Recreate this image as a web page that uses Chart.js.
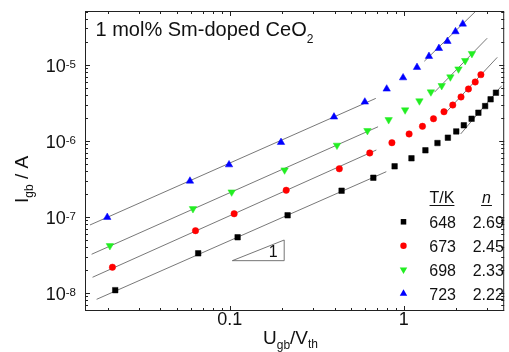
<!DOCTYPE html>
<html><head><meta charset="utf-8">
<script src="https://cdn.jsdelivr.net/npm/chart.js@4.4.0/dist/chart.umd.min.js"></script>
<style>html,body{margin:0;padding:0;background:#fff}canvas{display:block}</style>
</head><body>
<canvas id="c" width="509" height="352"></canvas>
<script>
// ---- data ----
const temperatures = ['648', '673', '698', '723'];
const exponentsN = ['2.69', '2.45', '2.33', '2.22'];

const x648 = [0.0220, 0.0659, 0.111, 0.215, 0.439, 0.668, 0.885, 1.106, 1.33, 1.56, 1.79, 2.00, 2.21, 2.45, 2.68, 2.93, 3.15, 3.38];
const y648 = [1.09e-8, 3.32e-8, 5.40e-8, 1.05e-7, 2.21e-7, 3.27e-7, 4.62e-7, 5.89e-7, 7.50e-7, 9.35e-7, 1.10e-6, 1.33e-6, 1.60e-6, 1.95e-6, 2.34e-6, 2.86e-6, 3.51e-6, 4.29e-6];

const x673 = [0.0212, 0.0636, 0.106, 0.211, 0.426, 0.637, 0.854, 1.072, 1.279, 1.48, 1.70, 1.91, 2.13, 2.35, 2.57, 2.77];
const y673 = [2.18e-8, 6.59e-8, 1.10e-7, 2.24e-7, 4.29e-7, 6.92e-7, 9.44e-7, 1.23e-6, 1.55e-6, 1.95e-6, 2.41e-6, 2.95e-6, 3.77e-6, 4.80e-6, 5.93e-6, 7.40e-6];

const x698 = [0.0205, 0.0615, 0.1026, 0.2066, 0.413, 0.618, 0.818, 1.017, 1.229, 1.43, 1.65, 1.85, 2.06, 2.25, 2.46];
const y698 = [4.18e-8, 1.28e-7, 2.12e-7, 4.13e-7, 8.73e-7, 1.36e-6, 1.89e-6, 2.54e-6, 3.34e-6, 4.38e-6, 5.30e-6, 6.89e-6, 8.77e-6, 1.13e-5, 1.40e-5];

const x723 = [0.0198, 0.0591, 0.0991, 0.197, 0.397, 0.597, 0.797, 0.99, 1.19, 1.394, 1.59, 1.78, 1.98, 2.18];
const y723 = [9.88e-8, 2.96e-7, 4.85e-7, 9.55e-7, 2.06e-6, 3.24e-6, 4.80e-6, 6.75e-6, 9.24e-6, 1.29e-5, 1.64e-5, 2.03e-5, 2.72e-5, 3.43e-5];

// fitted lines: [x0, x1] and [y0, y1] end points
const ohmicFitX648 = [0.0172, 0.793];  const ohmicFitY648 = [8.26e-9, 3.93e-7];
const ohmicFitX673 = [0.0163, 0.695];  const ohmicFitY673 = [1.61e-8, 7.57e-7];
const ohmicFitX698 = [0.0161, 0.711];  const ohmicFitY698 = [3.23e-8, 1.53e-6];
const ohmicFitX723 = [0.01575, 0.69];  const ohmicFitY723 = [7.83e-8, 3.61e-6];
const powerFitX648 = [2.12, 3.65];     const powerFitY648 = [1.23e-6, 5.3e-6];
const powerFitX673 = [1.71, 3.44];     const powerFitY673 = [2.25e-6, 1.25e-5];
const powerFitX698 = [1.50, 3.01];     const powerFitY698 = [4.36e-6, 2.23e-5];
const powerFitX723 = [1.31, 2.60];     const powerFitY723 = [1.11e-5, 5.1e-5];

const xTickValues = [0.1, 1];
const xTickLabels = ['0.1', '1'];
const yTickExponents = [-8, -7, -6, -5];
const yTickValues = [1e-8, 1e-7, 1e-6, 1e-5];

// ---- helpers ----
const FONT = '"Liberation Sans", Arial, Helvetica, sans-serif';
const pts = (xs, ys) => xs.map((x, i) => ({x: x, y: ys[i]}));

const markerStyles = [
  {style: 'rect', color: '#000000', radius: 3.9, rotation: 0},
  {style: 'circle', color: '#ff0000', radius: 3.2, rotation: 0},
  {style: 'triangle', color: '#22ee22', radius: 4.3, rotation: 180},
  {style: 'triangle', color: '#0000ff', radius: 4.3, rotation: 0}
];
const seriesX = [x648, x673, x698, x723];
const seriesY = [y648, y673, y698, y723];
const fits = [
  [ohmicFitX648, ohmicFitY648], [ohmicFitX673, ohmicFitY673], [ohmicFitX698, ohmicFitY698], [ohmicFitX723, ohmicFitY723],
  [powerFitX648, powerFitY648], [powerFitX673, powerFitY673], [powerFitX698, powerFitY698], [powerFitX723, powerFitY723]
];

const datasets = [];
seriesX.forEach((xs, i) => {
  const m = markerStyles[i];
  datasets.push({
    label: temperatures[i] + ' K',
    data: pts(xs, seriesY[i]),
    pointStyle: m.style, pointRadius: m.radius, pointRotation: m.rotation,
    pointBackgroundColor: m.color, pointBorderColor: m.color, pointBorderWidth: 0.5,
    showLine: false, order: 0
  });
});
fits.forEach(f => {
  datasets.push({
    label: 'fit', data: pts(f[0], f[1]), showLine: true,
    borderColor: '#555555', borderWidth: 0.8, pointRadius: 0, order: 1
  });
});

function drawRich(ctx, parts, x, y) {
  let cx = x;
  for (const p of parts) {
    ctx.font = (p.italic ? 'italic ' : '') + p.size + 'px ' + FONT;
    ctx.fillText(p.t, cx, y + (p.dy || 0));
    cx += ctx.measureText(p.t).width;
  }
  return cx;
}

function drawMarker(ctx, m, x, y) {
  ctx.save();
  ctx.fillStyle = m.color;
  ctx.beginPath();
  if (m.style === 'rect') {
    const s = Math.SQRT1_2 * m.radius;
    ctx.rect(x - s, y - s, 2 * s, 2 * s);
  } else if (m.style === 'circle') {
    ctx.arc(x, y, m.radius, 0, Math.PI * 2);
  } else {
    let a = m.rotation * Math.PI / 180;
    for (let k = 0; k < 3; k++) {
      const px = x + Math.sin(a) * m.radius, py = y - Math.cos(a) * m.radius;
      if (k === 0) ctx.moveTo(px, py); else ctx.lineTo(px, py);
      a += 2 * Math.PI / 3;
    }
    ctx.closePath();
  }
  ctx.fill();
  ctx.restore();
}

const decor = {
  id: 'decor',
  beforeDatasetsDraw(chart) {
    const {ctx, scales: {x, y}} = chart;
    // slope triangle
    const xl = x.getPixelForValue(0.1035), xr = x.getPixelForValue(0.2055);
    const yb = y.getPixelForValue(2.66e-8), yt = y.getPixelForValue(4.97e-8);
    ctx.save();
    ctx.strokeStyle = '#666'; ctx.lineWidth = 0.9;
    ctx.beginPath();
    ctx.moveTo(xl, yb); ctx.lineTo(xr, yt); ctx.lineTo(xr, yb); ctx.closePath();
    ctx.stroke();
    ctx.fillStyle = '#111'; ctx.font = '16px ' + FONT; ctx.textAlign = 'center';
    ctx.fillText('1', xr - 11, yb - 4);
    ctx.restore();
  },
  afterDraw(chart) {
    const {ctx, chartArea: a, scales: {x, y}} = chart;
    ctx.save();
    // frame
    ctx.strokeStyle = '#222'; ctx.lineWidth = 1;
    ctx.strokeRect(a.left + 0.5, a.top + 0.5, a.right - a.left - 1, a.bottom - a.top - 1);
    // inward ticks
    ctx.beginPath();
    for (let e = -3; e <= 1; e++) {
      for (let k = 1; k <= 9; k++) {
        const v = k * Math.pow(10, e);
        if (v < x.min || v > x.max) continue;
        const px = Math.round(x.getPixelForValue(v)) + 0.5;
        const len = k === 1 ? 5 : 3;
        ctx.moveTo(px, a.bottom); ctx.lineTo(px, a.bottom - len);
        ctx.moveTo(px, a.top); ctx.lineTo(px, a.top + len);
      }
    }
    for (let e = -10; e <= -3; e++) {
      for (let k = 1; k <= 9; k++) {
        const v = k * Math.pow(10, e);
        if (v < y.min || v > y.max) continue;
        const py = Math.round(y.getPixelForValue(v)) + 0.5;
        const len = k === 1 ? 5 : 3;
        ctx.moveTo(a.left, py); ctx.lineTo(a.left + len, py);
        ctx.moveTo(a.right, py); ctx.lineTo(a.right - len, py);
      }
    }
    ctx.stroke();

    ctx.fillStyle = '#111';
    ctx.textBaseline = 'alphabetic';
    // y tick labels 10^n
    yTickValues.forEach((v, i) => {
      const py = y.getPixelForValue(v);
      ctx.font = '11.5px ' + FONT;
      const ex = '-' + Math.abs(yTickExponents[i]);
      const ew = ctx.measureText(ex).width;
      ctx.textAlign = 'left';
      ctx.fillText(ex, 76 - ew, py + 3);
      ctx.font = '18px ' + FONT;
      ctx.textAlign = 'right';
      ctx.fillText('10', 76 - ew, py + 7);
    });
    ctx.textAlign = 'left';

    // title in plot
    drawRich(ctx, [{t: '1 mol% Sm-doped CeO', size: 20}, {t: '2', size: 12, dy: 7}], 95.5, 36);

    // x axis title
    drawRich(ctx, [{t: 'U', size: 19}, {t: 'gb', size: 12, dy: 5}, {t: '/V', size: 19}, {t: 'th', size: 12, dy: 4}], 263, 344);

    // y axis title
    ctx.save();
    ctx.translate(28, 203);
    ctx.rotate(-Math.PI / 2);
    drawRich(ctx, [{t: 'I', size: 19}, {t: 'gb', size: 12, dy: 5}, {t: ' / A', size: 19}], 0, 0);
    ctx.restore();

    // legend table
    ctx.font = '16px ' + FONT;
    ctx.textAlign = 'center';
    ctx.fillText('T/K', 442, 203);
    const wT = ctx.measureText('T/K').width;
    ctx.font = 'italic 16px ' + FONT;
    ctx.fillText('n', 486.5, 203);
    const wn = ctx.measureText('n').width;
    ctx.strokeStyle = '#111'; ctx.lineWidth = 1;
    ctx.beginPath();
    ctx.moveTo(442 - wT / 2, 205.5); ctx.lineTo(442 + wT / 2, 205.5);
    ctx.moveTo(486.5 - wn / 2 - 1, 205.5); ctx.lineTo(486.5 + wn / 2 + 1, 205.5);
    ctx.stroke();
    ctx.textAlign = 'left';
    ctx.font = '16px ' + FONT;
    temperatures.forEach((t, i) => {
      const by = 228.3 + i * 23.9;
      drawMarker(ctx, markerStyles[i], 403.5, by - 6.5);
      ctx.fillStyle = '#111';
      ctx.fillText(t, 429.3, by);
      ctx.fillText(exponentsN[i], 472.7, by);
    });
    ctx.restore();
  }
};

new Chart(document.getElementById('c'), {
  type: 'scatter',
  data: {datasets: datasets},
  options: {
    responsive: false,
    animation: false,
    layout: {padding: {left: 0, right: 2, top: 11, bottom: 0}},
    plugins: {legend: {display: false}, tooltip: {enabled: false}, title: {display: false}},
    scales: {
      x: {
        type: 'logarithmic', min: 0.01475, max: 3.77,
        grid: {display: false, drawTicks: false}, border: {display: false},
        afterBuildTicks: s => { s.ticks = xTickValues.map(v => ({value: v})); },
        ticks: {font: {family: FONT, size: 18}, color: '#111', padding: -2, maxRotation: 0, autoSkip: false,
                callback: (v, i) => xTickLabels[i]},
        afterFit: s => { s.height = 41; }
      },
      y: {
        type: 'logarithmic', min: 5.8e-9, max: 5.08e-5,
        grid: {display: false, drawTicks: false}, border: {display: false},
        afterBuildTicks: s => { s.ticks = yTickValues.map(v => ({value: v})); },
        ticks: {display: false},
        afterFit: s => { s.width = 85; }
      }
    }
  },
  plugins: [decor]
});
</script>
</body></html>
